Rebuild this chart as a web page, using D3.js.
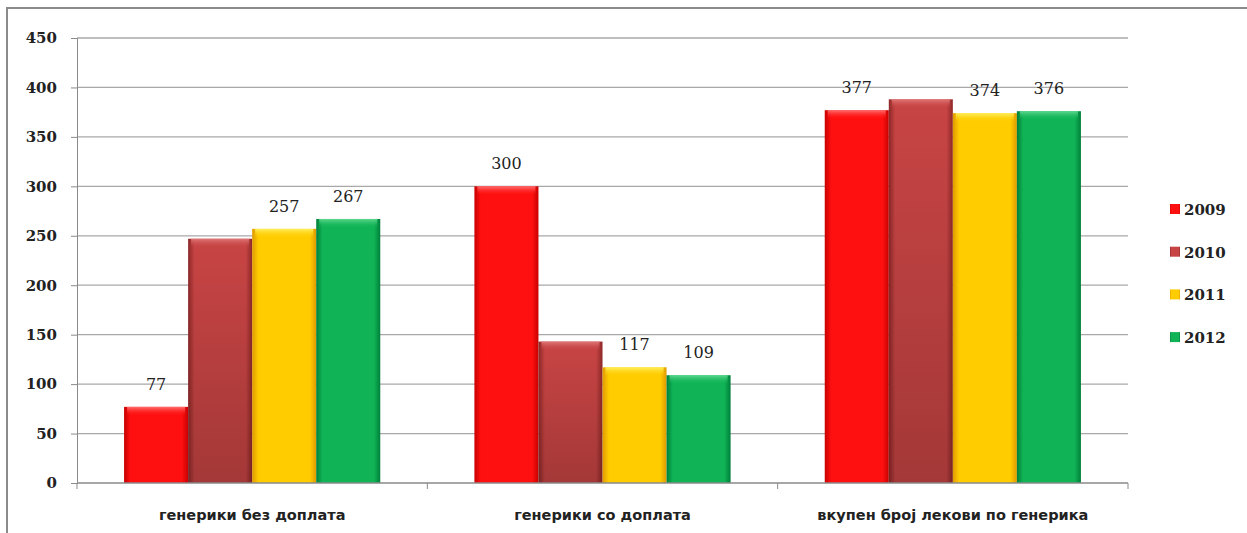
<!DOCTYPE html>
<html>
<head>
    <meta charset="UTF-8">
    <title>Генерики</title>
    <style>
        body { margin: 0; background: #fff; }
        svg { display: block; }
    </style>
</head>
<body>
    <svg width="1247" height="533"></svg>
    <script src="https://d3js.org/d3.v7.min.js"></script>
    <script>
        // data
        let categories = ["генерики без доплата", "генерики со доплата", "вкупен број лекови по генерика"];
        let years = ["2009", "2010", "2011", "2012"];
        let values2009 = [77, 300, 377];
        let values2010 = [247, 143, 388];
        let values2011 = [257, 117, 374];
        let values2012 = [267, 109, 376];
        let labelledYears = ["2009", "2011", "2012"];
        let yTicks = [0, 50, 100, 150, 200, 250, 300, 350, 400, 450];

        let series = [values2009, values2010, values2011, values2012];

        let svg = d3.select("svg");
        let defs = svg.append("defs");

        // colours: [edge, middle, top-highlight]
        let colors = {
            "2009": ["#c80000", "#ff1010", "#ff7070"],
            "2010": ["#8e2828", "#c84444", "#e07878"],
            "2011": ["#e09a00", "#ffcc00", "#fff060"],
            "2012": ["#00803a", "#10b456", "#60d890"]
        };

        years.forEach(yr => {
            let c = colors[yr];
            let g = defs.append("linearGradient").attr("id", "h" + yr)
                .attr("x1", 0).attr("x2", 1).attr("y1", 0).attr("y2", 0);
            g.append("stop").attr("offset", "0%").attr("stop-color", c[0]);
            g.append("stop").attr("offset", "10%").attr("stop-color", c[1]);
            g.append("stop").attr("offset", "90%").attr("stop-color", c[1]);
            g.append("stop").attr("offset", "100%").attr("stop-color", c[0]);
            let t = defs.append("linearGradient").attr("id", "t" + yr)
                .attr("x1", 0).attr("x2", 0).attr("y1", 0).attr("y2", 1);
            t.append("stop").attr("offset", "0%").attr("stop-color", c[2]);
            t.append("stop").attr("offset", "100%").attr("stop-color", c[1]).attr("stop-opacity", 0);
        });
        // brown bar gets darker toward the bottom
        let shade = defs.append("linearGradient").attr("id", "shade")
            .attr("x1", 0).attr("x2", 0).attr("y1", 0).attr("y2", 1);
        shade.append("stop").attr("offset", "0%").attr("stop-color", "#000").attr("stop-opacity", 0);
        shade.append("stop").attr("offset", "100%").attr("stop-color", "#000").attr("stop-opacity", 0.18);

        // outer chart frame
        svg.append("rect")
            .attr("x", 7).attr("y", 8)
            .attr("width", 1400).attr("height", 700)
            .attr("fill", "none")
            .attr("stroke", "#8a8a8a")
            .attr("stroke-width", 2);

        let plotLeft = 77, plotRight = 1128, plotTop = 38, plotBottom = 483;

        let y = d3.scaleLinear().domain([0, 450]).range([plotBottom, plotTop]);
        let x0 = d3.scaleBand().domain(categories).range([plotLeft, plotRight]).padding(0);
        let x1 = d3.scaleBand().domain(years).range([0, x0.bandwidth()])
            .paddingInner(0).paddingOuter(0.735);

        // gridlines
        svg.append("g")
            .selectAll("line")
            .data(yTicks.filter(d => d > 0))
            .enter().append("line")
            .attr("x1", plotLeft).attr("x2", plotRight)
            .attr("y1", d => y(d)).attr("y2", d => y(d))
            .attr("stroke", "#a8a8a8")
            .attr("stroke-width", 1.3);

        // y axis
        let yAxis = svg.append("g")
            .attr("transform", `translate(${plotLeft},0)`)
            .call(d3.axisLeft(y).tickValues(yTicks).tickSize(6).tickPadding(14));
        yAxis.select(".domain").attr("stroke", "#8a8a8a");
        yAxis.selectAll(".tick line").attr("stroke", "#8a8a8a");
        yAxis.selectAll("text")
            .attr("font-family", "DejaVu Serif")
            .attr("font-weight", "bold")
            .attr("font-size", 15)
            .attr("fill", "#222");

        // bars
        let groups = svg.append("g")
            .selectAll("g")
            .data(categories)
            .enter().append("g")
            .attr("transform", d => `translate(${x0(d)},0)`);

        let barData = i => years.map((yr, j) => ({ yr: yr, v: series[j][i] }));

        groups.each(function (c, i) {
            let g = d3.select(this);
            let data = barData(i);
            g.selectAll("rect.bar")
                .data(data)
                .enter().append("rect")
                .attr("class", "bar")
                .attr("x", d => x1(d.yr))
                .attr("y", d => y(d.v))
                .attr("width", x1.bandwidth())
                .attr("height", d => plotBottom - y(d.v))
                .attr("fill", d => `url(#h${d.yr})`);
            g.selectAll("rect.top")
                .data(data)
                .enter().append("rect")
                .attr("class", "top")
                .attr("x", d => x1(d.yr) + 3)
                .attr("y", d => y(d.v))
                .attr("width", x1.bandwidth() - 6)
                .attr("height", 9)
                .attr("fill", d => `url(#t${d.yr})`);
            g.selectAll("rect.shade")
                .data(data.filter(d => d.yr === "2010"))
                .enter().append("rect")
                .attr("class", "shade")
                .attr("x", d => x1(d.yr))
                .attr("y", d => y(d.v))
                .attr("width", x1.bandwidth())
                .attr("height", d => plotBottom - y(d.v))
                .attr("fill", "url(#shade)");
            g.selectAll("text")
                .data(data.filter(d => labelledYears.includes(d.yr)))
                .enter().append("text")
                .attr("x", d => x1(d.yr) + x1.bandwidth() / 2)
                .attr("y", d => y(d.v) - 17)
                .attr("text-anchor", "middle")
                .attr("font-family", "DejaVu Serif")
                .attr("font-size", 16)
                .attr("fill", "#222")
                .text(d => d.v);
        });

        // x axis
        let xAxis = svg.append("g")
            .attr("transform", `translate(0,${plotBottom})`);
        xAxis.append("line")
            .attr("x1", plotLeft).attr("x2", plotRight)
            .attr("stroke", "#8a8a8a").attr("stroke-width", 1.3);
        xAxis.selectAll("line.tick")
            .data(categories.map(c => x0(c)).concat([plotRight]))
            .enter().append("line")
            .attr("class", "tick")
            .attr("x1", d => d).attr("x2", d => d)
            .attr("y1", 0).attr("y2", 6)
            .attr("stroke", "#8a8a8a");
        xAxis.selectAll("text")
            .data(categories)
            .enter().append("text")
            .attr("x", d => x0(d) + x0.bandwidth() / 2)
            .attr("y", 37)
            .attr("text-anchor", "middle")
            .attr("font-family", "DejaVu Sans")
            .attr("font-weight", "bold")
            .attr("font-size", 14.5)
            .attr("fill", "#222")
            .text(d => d);

        // legend
        let legend = svg.append("g")
            .attr("transform", "translate(1170,204)");
        let items = legend.selectAll("g")
            .data(years)
            .enter().append("g")
            .attr("transform", (d, i) => `translate(0,${i * 42.7})`);
        items.append("rect")
            .attr("width", 10).attr("height", 10)
            .attr("fill", d => `url(#h${d})`);
        items.append("text")
            .attr("x", 14).attr("y", 11)
            .attr("font-family", "DejaVu Serif")
            .attr("font-weight", "bold")
            .attr("font-size", 15)
            .attr("fill", "#222")
            .text(d => d);
    </script>
</body>
</html>
